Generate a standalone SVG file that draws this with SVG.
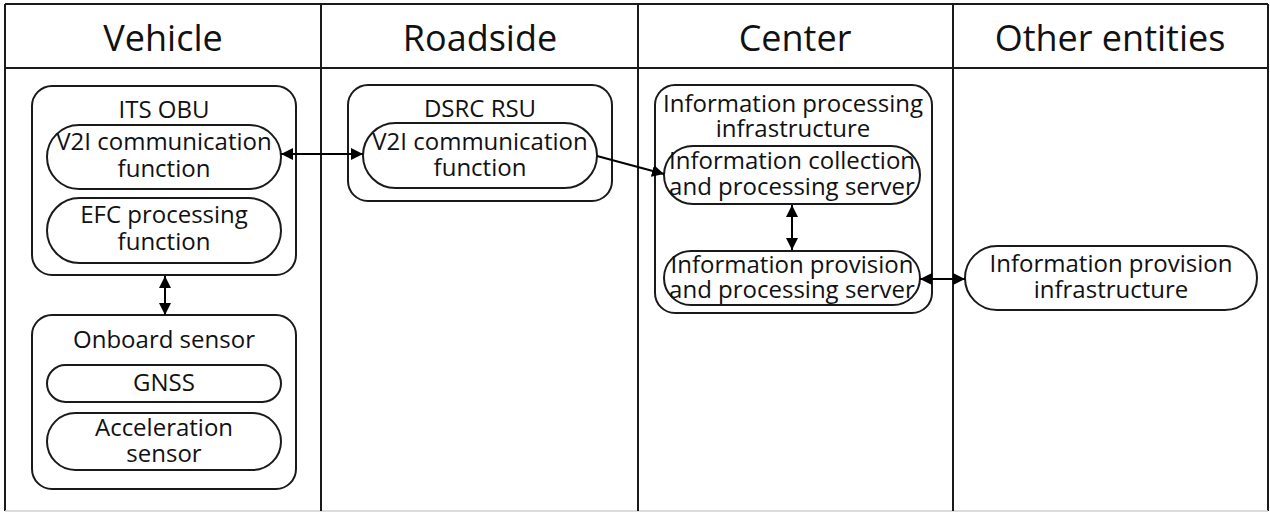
<svg xmlns="http://www.w3.org/2000/svg" width="1270" height="513" viewBox="0 0 1270 513">
<style>
.frame{fill:none;stroke:#1a1a1a;stroke-width:2}
.box{fill:#fff;stroke:#1a1a1a;stroke-width:2}
.pill{fill:#fff;stroke:#1a1a1a;stroke-width:2}
.hdr{font-family:"Open Sans",sans-serif;font-size:36px;fill:#111;text-anchor:middle}
.t{font-family:"Open Sans",sans-serif;font-size:24px;fill:#111;text-anchor:middle}
.conn{fill:none;stroke:#000;stroke-width:2}
</style>
<defs>
<marker id="ah" viewBox="0 0 10 10" refX="10" refY="5" markerWidth="6" markerHeight="6" orient="auto-start-reverse" markerUnits="strokeWidth">
<path d="M0,0 L10,5 L0,10 z" fill="#000"/>
</marker>
</defs>
<rect width="1270" height="513" fill="#fff"/>
<g id="swimlanes">
<line x1="5" y1="4" x2="1268" y2="4" class="frame"/>
<line x1="5" y1="4" x2="5" y2="511" class="frame"/>
<line x1="1268" y1="4" x2="1268" y2="511" class="frame"/>
<line x1="5" y1="511" x2="1268" y2="511" stroke="#d0d0d0" stroke-width="1.5"/>
<line x1="5" y1="68" x2="1268" y2="68" class="frame"/>
<line x1="321" y1="4" x2="321" y2="511" class="frame"/>
<line x1="638" y1="4" x2="638" y2="511" class="frame"/>
<line x1="953" y1="4" x2="953" y2="511" class="frame"/>
<text x="163" y="51" class="hdr">Vehicle</text>
<text x="480" y="51" class="hdr">Roadside</text>
<text x="795" y="51" class="hdr">Center</text>
<text x="1110" y="51" class="hdr">Other entities</text>
</g>
<g id="its-obu">
<rect x="32" y="86" width="264" height="189" rx="20" class="box"/>
<text x="164" y="118" class="t">ITS OBU</text>
</g>
<g id="obu-v2i">
<rect x="47" y="125" width="234" height="64" rx="32" class="pill"/>
<text x="164" y="150" class="t">V2I communication</text>
<text x="164" y="177" class="t">function</text>
</g>
<g id="efc">
<rect x="47" y="198" width="234" height="65" rx="32.5" class="pill"/>
<text x="164" y="223" class="t">EFC processing</text>
<text x="164" y="250" class="t">function</text>
</g>
<g id="onboard-sensor">
<rect x="32" y="315" width="264" height="174" rx="20" class="box"/>
<text x="164" y="348" class="t">Onboard sensor</text>
</g>
<g id="gnss">
<rect x="47" y="365" width="234" height="37" rx="18.5" class="pill"/>
<text x="164" y="391" class="t">GNSS</text>
</g>
<g id="accel">
<rect x="47" y="413" width="234" height="57" rx="28.5" class="pill"/>
<text x="164" y="436" class="t">Acceleration</text>
<text x="164" y="462" class="t">sensor</text>
</g>
<g id="dsrc-rsu">
<rect x="348" y="85" width="264" height="116" rx="20" class="box"/>
<text x="480" y="117" class="t">DSRC RSU</text>
</g>
<g id="rsu-v2i">
<rect x="363" y="123" width="234" height="65" rx="32.5" class="pill"/>
<text x="480" y="150" class="t">V2I communication</text>
<text x="480" y="176" class="t">function</text>
</g>
<g id="info-processing-infra">
<rect x="655" y="85" width="277" height="228" rx="20" class="box"/>
<text x="793" y="112" class="t">Information processing</text>
<text x="793" y="137" class="t">infrastructure</text>
</g>
<g id="info-collection-server">
<rect x="664" y="146" width="256" height="58" rx="29" class="pill"/>
<text x="792" y="169" class="t">Information collection</text>
<text x="792" y="195" class="t">and processing server</text>
</g>
<g id="info-provision-server">
<rect x="664" y="251" width="256" height="54" rx="27" class="pill"/>
<text x="792" y="273" class="t">Information provision</text>
<text x="792" y="298" class="t">and processing server</text>
</g>
<g id="info-provision-infra">
<rect x="965" y="246" width="292" height="64" rx="32" class="pill"/>
<text x="1111" y="272" class="t">Information provision</text>
<text x="1111" y="298" class="t">infrastructure</text>
</g>
<g id="connectors">
<line x1="281" y1="154" x2="363" y2="154" class="conn" marker-start="url(#ah)" marker-end="url(#ah)"/>
<line x1="597" y1="156" x2="664" y2="174" class="conn" marker-end="url(#ah)"/>
<line x1="165" y1="276" x2="165" y2="315" class="conn" marker-start="url(#ah)" marker-end="url(#ah)"/>
<line x1="792" y1="205" x2="792" y2="250" class="conn" marker-start="url(#ah)" marker-end="url(#ah)"/>
<line x1="920" y1="279" x2="965" y2="279" class="conn" marker-start="url(#ah)" marker-end="url(#ah)"/>
</g>
</svg>
